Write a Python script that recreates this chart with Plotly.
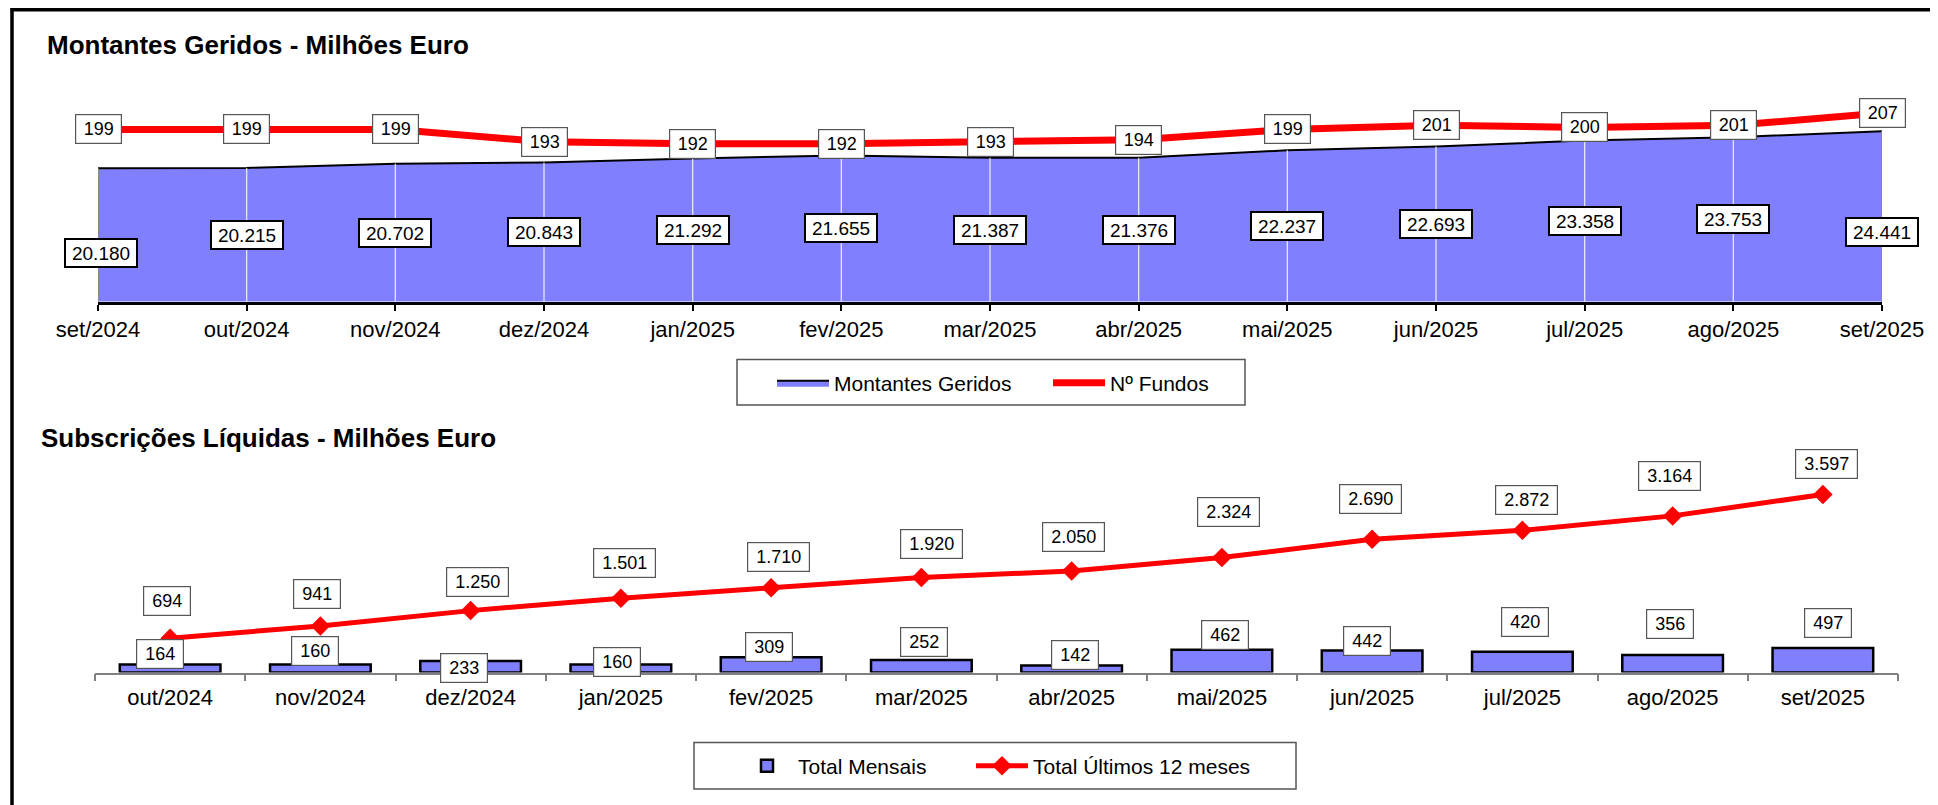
import plotly.graph_objects as go

# ---------------- data ----------------
months_top = ["set/2024", "out/2024", "nov/2024", "dez/2024", "jan/2025", "fev/2025",
              "mar/2025", "abr/2025", "mai/2025", "jun/2025", "jul/2025", "ago/2025", "set/2025"]
montantes = [20180, 20215, 20702, 20843, 21292, 21655, 21387, 21376, 22237, 22693, 23358, 23753, 24441]
n_fundos = [199, 199, 199, 193, 192, 192, 193, 194, 199, 201, 200, 201, 207]

months_bot = ["out/2024", "nov/2024", "dez/2024", "jan/2025", "fev/2025", "mar/2025",
              "abr/2025", "mai/2025", "jun/2025", "jul/2025", "ago/2025", "set/2025"]
total_mensais = [164, 160, 233, 160, 309, 252, 142, 462, 442, 420, 356, 497]
total_12m = [694, 941, 1250, 1501, 1710, 1920, 2050, 2324, 2690, 2872, 3164, 3597]

# ---------------- style / layout helpers ----------------
W, H = 1938, 805
PAGE_OFFSET = 8          # default body margin of the html page
FONT = "Liberation Sans, Arial, sans-serif"
BLUE = "#8080FF"
RED = "#FF0000"


def px(x):
    return (x - PAGE_OFFSET) / W


def py(y):
    return 1 - (y - PAGE_OFFSET) / H


def fmt(v):
    return f"{v:,}".replace(",", ".")


def text_w(s, size):
    w = 0.0
    for ch in s:
        w += 0.278 if ch == "." else 0.556
    return w * size


Y1_RANGE = [4800, 31500]
Y2_RANGE = [115, 228]
Y3_RANGE = [0, 4000]

# per-label pixel nudges (style only)
mont_label_yshift = [-18, 0, 0, 0, 0, 0, 0, 0, 0, 0, 0, 0, -16]
mont_label_xshift = [3, 0, 0, 0, 0, 0, 0, 0, 0, 0, 0, 0, 0]
bar_label_yshift = [10, 14, -7, 3, 10, 18, 10, 15, 10, 30, 31, 25]
bar_label_xshift = [-10, -5, -7, -4, -2, 3, 3, 3, -5, 3, -3, 5]
line_label_yshift = [37, 32, 29, 35, 31, 33, 34, 45, 40, 30, 40, 30]
line_label_xshift = [-3, -3, 7, 4, 7, 10, 2, 7, -2, 4, -3, 4]

fig = go.Figure()

# ---- top chart: area (Montantes Geridos) ----
fig.add_trace(go.Scatter(
    x=months_top, y=montantes, mode="lines", name="Montantes Geridos",
    line=dict(color="black", width=2), fill="tozeroy", fillcolor=BLUE,
    xaxis="x", yaxis="y", legend="legend", hoverinfo="skip"))

# drop lines inside the area
seg_x, seg_y = [], []
for m, v in zip(months_top[1:-1], montantes[1:-1]):
    seg_x += [m, m, None]
    seg_y += [0, v, None]
fig.add_trace(go.Scatter(
    x=seg_x, y=seg_y, mode="lines", line=dict(color="rgba(255,255,255,0.8)", width=1.3),
    showlegend=False, hoverinfo="skip", xaxis="x", yaxis="y"))
edge_x, edge_y = [], []
for m, v in [(months_top[0], montantes[0]), (months_top[-1], montantes[-1])]:
    edge_x += [m, m, None]
    edge_y += [0, v, None]
fig.add_trace(go.Scatter(
    x=edge_x, y=edge_y, mode="lines", line=dict(color="#8a8a8a", width=2),
    showlegend=False, hoverinfo="skip", xaxis="x", yaxis="y"))

# ---- top chart: Nº Fundos line ----
fig.add_trace(go.Scatter(
    x=months_top, y=n_fundos, mode="lines", name="Nº Fundos",
    line=dict(color=RED, width=7), xaxis="x", yaxis="y2", legend="legend3",
    hoverinfo="skip"))

# ---- bottom chart ----
fig.add_trace(go.Bar(
    x=months_bot, y=total_mensais, name="Total Mensais", width=0.67,
    marker=dict(color=BLUE, line=dict(color="black", width=2.5)),
    xaxis="x2", yaxis="y3", legend="legend2", hoverinfo="skip"))
fig.add_trace(go.Scatter(
    x=months_bot, y=total_12m, mode="lines+markers", name="Total Últimos 12 meses",
    line=dict(color=RED, width=5), marker=dict(symbol="diamond", size=15, color=RED),
    xaxis="x2", yaxis="y3", legend="legend4", hoverinfo="skip"))

annotations = []
# titles
annotations.append(dict(text="<b>Montantes Geridos - Milhões Euro</b>", xref="paper", yref="paper",
                        x=px(45), y=py(45), xanchor="left", yanchor="middle", showarrow=False,
                        font=dict(family=FONT, size=26, color="black")))
annotations.append(dict(text="<b>Subscrições Líquidas - Milhões Euro</b>", xref="paper", yref="paper",
                        x=px(39), y=py(438), xanchor="left", yanchor="middle", showarrow=False,
                        font=dict(family=FONT, size=26, color="black")))

# Montantes labels (middle of the area)
for i, (m, v) in enumerate(zip(months_top, montantes)):
    t = fmt(v)
    annotations.append(dict(
        text=t, x=m, y=(v + Y1_RANGE[0]) / 2, xref="x", yref="y", showarrow=False,
        xshift=mont_label_xshift[i], yshift=mont_label_yshift[i],
        font=dict(family=FONT, size=19, color="black"), bgcolor="white",
        bordercolor="black", borderwidth=2, borderpad=1,
        width=text_w(t, 19) + 10, height=24))

# Nº Fundos labels (centred on the points)
for m, v in zip(months_top, n_fundos):
    t = fmt(v)
    annotations.append(dict(
        text=t, x=m, y=v, xref="x", yref="y2", showarrow=False,
        font=dict(family=FONT, size=18, color="black"), bgcolor="white",
        bordercolor="#555555", borderwidth=1.2, borderpad=1,
        width=text_w(t, 18) + 13, height=25.5))

# bar labels
for i, (m, v) in enumerate(zip(months_bot, total_mensais)):
    t = fmt(v)
    annotations.append(dict(
        text=t, x=m, y=v, xref="x2", yref="y3", showarrow=False,
        xshift=bar_label_xshift[i], yshift=bar_label_yshift[i],
        font=dict(family=FONT, size=18, color="black"), bgcolor="white",
        bordercolor="#555555", borderwidth=1.2, borderpad=1,
        width=text_w(t, 18) + 14, height=25.5))

# 12-month line labels
for i, (m, v) in enumerate(zip(months_bot, total_12m)):
    t = fmt(v)
    annotations.append(dict(
        text=t, x=m, y=v, xref="x2", yref="y3", showarrow=False,
        xshift=line_label_xshift[i], yshift=line_label_yshift[i],
        font=dict(family=FONT, size=18, color="black"), bgcolor="white",
        bordercolor="#555555", borderwidth=1.2, borderpad=1,
        width=text_w(t, 18) + 14, height=25.5))

shapes = [
    # outer frame: top and left edges only (the others are outside the picture)
    dict(type="line", xref="paper", yref="paper", x0=px(10.5), x1=1, y0=py(9.7), y1=py(9.7),
         line=dict(color="black", width=3.5), layer="above"),
    dict(type="line", xref="paper", yref="paper", x0=px(12), x1=px(12), y0=0, y1=py(8),
         line=dict(color="black", width=3.5), layer="above"),
    # legend frames
    dict(type="rect", xref="paper", yref="paper", x0=px(737), x1=px(1245), y0=py(405), y1=py(359.5),
         line=dict(color="#555555", width=1.5), fillcolor="white", layer="below"),
    dict(type="rect", xref="paper", yref="paper", x0=px(694), x1=px(1296), y0=py(789), y1=py(742.5),
         line=dict(color="#555555", width=1.5), fillcolor="white", layer="below"),
]


def legend_at(x_px, y_px):
    return dict(orientation="h", x=px(x_px), xanchor="left", y=py(y_px), yanchor="middle",
                bgcolor="rgba(0,0,0,0)", borderwidth=0, font=dict(family=FONT, size=21),
                itemwidth=52, itemclick=False, itemdoubleclick=False)


fig.update_layout(
    width=W, height=H, margin=dict(l=0, r=0, t=0, b=0, autoexpand=False), autosize=False,
    paper_bgcolor="white", plot_bgcolor="rgba(0,0,0,0)",
    font=dict(family=FONT, color="black"),
    hovermode=False, barmode="overlay",
    xaxis=dict(domain=[px(98), px(1882)], type="category", range=[0, 12], anchor="y",
               showline=True, linecolor="black", linewidth=3, ticks="outside", ticklen=6,
               tickwidth=1.5, tickcolor="black", showgrid=False, zeroline=False,
               automargin=False,
               tickfont=dict(family=FONT, size=22, color="black"), ticklabelstandoff=0),
    yaxis=dict(domain=[py(301.6), py(70)], range=Y1_RANGE, visible=False, anchor="x"),
    yaxis2=dict(domain=[py(301.6), py(70)], range=Y2_RANGE, visible=False, overlaying="y",
                anchor="x", side="right"),
    xaxis2=dict(domain=[px(95), px(1898)], type="category", range=[-0.5, 11.5], anchor="y3",
                showline=True, linecolor="#808080", linewidth=1.5, ticks="outside",
                tickson="boundaries", ticklen=7, tickwidth=1.5, tickcolor="#808080",
                showgrid=False, zeroline=False, automargin=False,
                tickfont=dict(family=FONT, size=22, color="black"), ticklabelstandoff=4),
    yaxis3=dict(domain=[py(672.5), py(474.5)], range=Y3_RANGE, visible=False, anchor="x2"),
    legend=legend_at(772, 383),
    legend3=legend_at(1048, 383),
    legend2=legend_at(736, 766),
    legend4=legend_at(971, 766),
    annotations=annotations, shapes=shapes,
)

fig.write_html("out.html")
